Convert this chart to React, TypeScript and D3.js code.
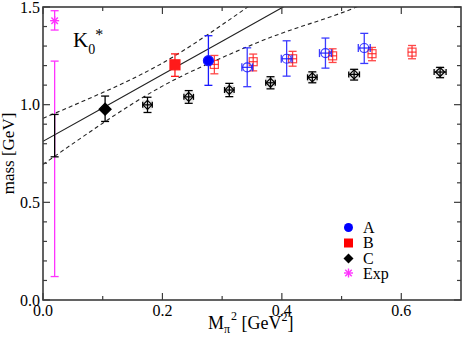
import React from "react";
import * as d3 from "d3";

// --- data ---
// A (blue): first point filled, rest open
const aX = [0.277, 0.342, 0.408, 0.473, 0.538];
const aM = [1.225, 1.191, 1.235, 1.264, 1.29];
const aLo = [1.099, 1.092, 1.146, 1.187, 1.211];
const aHi = [1.353, 1.291, 1.327, 1.341, 1.365];
const aXErr = [0, 0.009, 0.009, 0.01, 0.01];

// B (red)
const bX = [0.221, 0.287, 0.352, 0.418, 0.485, 0.551, 0.618];
const bM = [1.204, 1.206, 1.22, 1.235, 1.25, 1.261, 1.269];
const bLo = [1.145, 1.158, 1.173, 1.197, 1.216, 1.225, 1.235];
const bHi = [1.26, 1.252, 1.259, 1.273, 1.286, 1.293, 1.303];
const bXErr = [0, 0.007, 0.007, 0.007, 0.007, 0.007, 0.007];

// C (black)
const cX = [0.104, 0.175, 0.244, 0.312, 0.381, 0.451, 0.521, 0.665];
const cM = [0.977, 0.999, 1.04, 1.075, 1.112, 1.14, 1.155, 1.167];
const cLo = [0.914, 0.96, 1.007, 1.041, 1.081, 1.112, 1.126, 1.138];
const cHi = [1.044, 1.038, 1.072, 1.109, 1.143, 1.168, 1.181, 1.191];
const cXErr = [0, 0.008, 0.008, 0.008, 0.008, 0.008, 0.009, 0.01];

// experiment (magenta) + chiral extrapolation
const expX = 0.0195;
const expM = [1.43];
const expLo = [1.382, 0.12];
const expHi = [1.481, 1.223];
const extrapLo = 0.733;
const extrapHi = 0.95;

// linear fit and its error band
const fitX = [0, 0.1, 0.2, 0.3, 0.4, 0.5, 0.6];
const fitMid = [0.812, 0.983, 1.154, 1.325, 1.496, 1.668, 1.839];
const fitUp = [0.93, 1.062, 1.213, 1.409, 1.624, 1.845, 2.07];
const fitLo = [0.694, 0.905, 1.095, 1.241, 1.366, 1.47, 1.6];

const xMajor = [0, 0.2, 0.4, 0.6];
const xMinor = [0.1, 0.3, 0.5];
const yMajor = [0, 0.5, 1.0, 1.5];
const yMinor = [0.1, 0.2, 0.3, 0.4, 0.6, 0.7, 0.8, 0.9, 1.1, 1.2, 1.3, 1.4];

const legendLabels = ["A", "B", "C", "Exp"];

const W = 463;
const H = 346;
const L = 43, R = 461, T = 7, B = 300;
const font = "'Liberation Serif', 'Times New Roman', serif";
const axisCol = "#3c3c3c";

const x = d3.scaleLinear().domain([0, 0.7]).range([L, R]);
const y = d3.scaleLinear().domain([0, 1.5]).range([B, T]);

const BLUE = "#1a1aff";
const RED = "#ff1a1a";
const MAG = "#ff33ff";

function VBar({ px, lo, hi, color, cap = 4, opacity = 1 }: any) {
  return (
    <g stroke={color} strokeWidth={1.3} opacity={opacity}>
      <line x1={px} x2={px} y1={y(lo)} y2={y(hi)} />
      <line x1={px - cap} x2={px + cap} y1={y(lo)} y2={y(lo)} />
      <line x1={px - cap} x2={px + cap} y1={y(hi)} y2={y(hi)} />
    </g>
  );
}

function HBar({ xv, xe, py, color, cap = 3, opacity = 1 }: any) {
  if (!xe) return null;
  const x1 = x(xv - xe), x2 = x(xv + xe);
  return (
    <g stroke={color} strokeWidth={1.3} opacity={opacity}>
      <line x1={x1} x2={x2} y1={py} y2={py} />
      <line x1={x1} x2={x1} y1={py - cap} y2={py + cap} />
      <line x1={x2} x2={x2} y1={py - cap} y2={py + cap} />
    </g>
  );
}

function Star({ cx, cy, r, color }: any) {
  const d = r * 0.72;
  return (
    <g stroke={color} strokeWidth={1.4}>
      <line x1={cx - r} x2={cx + r} y1={cy} y2={cy} />
      <line x1={cx} x2={cx} y1={cy - r} y2={cy + r} />
      <line x1={cx - d} x2={cx + d} y1={cy - d} y2={cy + d} />
      <line x1={cx - d} x2={cx + d} y1={cy + d} y2={cy - d} />
    </g>
  );
}

const diamond = (cx: number, cy: number, r: number) =>
  `M${cx},${cy - r}L${cx + r},${cy}L${cx},${cy + r}L${cx - r},${cy}Z`;

export default function App() {
  const line = d3
    .line<number>()
    .x((_, i) => x(fitX[i]))
    .y((d) => y(d));
  const curve = d3
    .line<number>()
    .x((_, i) => x(fitX[i]))
    .y((d) => y(d))
    .curve(d3.curveNatural);

  return (
    <svg
      width={W}
      height={H}
      style={{ position: "absolute", left: 0, top: 0, background: "#fff" }}
      fontFamily={font}
    >
      <defs>
        <clipPath id="plot">
          <rect x={L} y={T} width={R - L} height={B - T} />
        </clipPath>
      </defs>

      {/* fit band */}
      <g clipPath="url(#plot)" fill="none" stroke="#222" strokeWidth={1.1}>
        <path d={line(fitMid) || ""} />
        <path d={curve(fitUp) || ""} strokeDasharray="4,3" />
        <path d={curve(fitLo) || ""} strokeDasharray="4,3" />
      </g>

      {/* experiment */}
      {expLo.map((lo, i) => (
        <VBar key={"e" + i} px={x(expX)} lo={lo} hi={expHi[i]} color={MAG} cap={4} />
      ))}
      {expM.map((m, i) => (
        <Star key={"es" + i} cx={x(expX)} cy={y(m)} r={4.5} color={MAG} />
      ))}
      <VBar px={x(expX)} lo={extrapLo} hi={extrapHi} color="#000" cap={4} />

      {/* C black */}
      {cX.map((xv, i) => {
        const px = x(xv), py = y(cM[i]);
        const filled = i === 0;
        return (
          <g key={"c" + i}>
            {!filled && (
              <rect x={px - 5} y={py - 5} width={10} height={10} fill="#d8d8d8" opacity={0.6} />
            )}
            <VBar px={px} lo={cLo[i]} hi={cHi[i]} color="#000" cap={4} />
            <HBar xv={xv} xe={cXErr[i]} py={py} color="#000" cap={3} />
            <path
              d={diamond(px, py, filled ? 6 : 4.5)}
              fill={filled ? "#000" : "none"}
              stroke="#000"
              strokeWidth={1.2}
            />
          </g>
        );
      })}

      {/* B red */}
      {bX.map((xv, i) => {
        const px = x(xv), py = y(bM[i]);
        const filled = i === 0;
        const op = filled ? 1 : 0.8;
        const s = filled ? 10 : 8;
        return (
          <g key={"b" + i}>
            <VBar px={px} lo={bLo[i]} hi={bHi[i]} color={RED} cap={4} opacity={op} />
            <HBar xv={xv} xe={bXErr[i]} py={py} color={RED} cap={0} opacity={op} />
            <rect
              x={px - s / 2}
              y={py - s / 2}
              width={s}
              height={s}
              fill={filled ? RED : "none"}
              stroke={RED}
              strokeWidth={1.2}
              opacity={op}
            />
          </g>
        );
      })}

      {/* A blue */}
      {aX.map((xv, i) => {
        const px = x(xv), py = y(aM[i]);
        const filled = i === 0;
        const op = filled ? 1 : 0.85;
        return (
          <g key={"a" + i}>
            <VBar px={px} lo={aLo[i]} hi={aHi[i]} color={BLUE} cap={4} opacity={op} />
            <HBar xv={xv} xe={aXErr[i]} py={py} color={BLUE} cap={4} opacity={op} />
            <circle
              cx={px}
              cy={py}
              r={filled ? 5 : 4.5}
              fill={filled ? "#0000ff" : "none"}
              stroke={BLUE}
              strokeWidth={1.2}
              opacity={op}
            />
          </g>
        );
      })}

      {/* frame and ticks */}
      <rect x={L} y={T} width={R - L} height={B - T} fill="none" stroke={axisCol} strokeWidth={1.6} />
      <g stroke={axisCol} strokeWidth={1.2}>
        {xMajor.map((v) => (
          <g key={"xM" + v}>
            <line x1={x(v)} x2={x(v)} y1={B} y2={B - 7} />
            <line x1={x(v)} x2={x(v)} y1={T} y2={T + 7} />
          </g>
        ))}
        {xMinor.map((v) => (
          <g key={"xm" + v}>
            <line x1={x(v)} x2={x(v)} y1={B} y2={B - 4} />
            <line x1={x(v)} x2={x(v)} y1={T} y2={T + 4} />
          </g>
        ))}
        {yMajor.map((v) => (
          <g key={"yM" + v}>
            <line x1={L} x2={L + 7} y1={y(v)} y2={y(v)} />
            <line x1={R} x2={R - 7} y1={y(v)} y2={y(v)} />
          </g>
        ))}
        {yMinor.map((v) => (
          <g key={"ym" + v}>
            <line x1={L} x2={L + 4} y1={y(v)} y2={y(v)} />
            <line x1={R} x2={R - 4} y1={y(v)} y2={y(v)} />
          </g>
        ))}
      </g>

      {/* tick labels */}
      <g fontSize={16} fill="#000">
        {xMajor.map((v) => (
          <text key={"xl" + v} x={x(v)} y={316} textAnchor="middle">
            {v.toFixed(1)}
          </text>
        ))}
        {yMajor.map((v) => (
          <text key={"yl" + v} x={40} y={y(v) + 5.5} textAnchor="end">
            {v.toFixed(1)}
          </text>
        ))}
      </g>

      {/* axis titles */}
      <text x={208} y={329} fontSize={18}>
        M<tspan fontSize={12} dy={4}>π</tspan>
        <tspan fontSize={12} dy={-13} dx={1}>2</tspan>
        <tspan dy={9}> [GeV</tspan>
        <tspan fontSize={12} dy={-8}>2</tspan>
        <tspan dy={8}>]</tspan>
      </text>
      <text transform={`translate(14,${(T + B) / 2}) rotate(-90)`} textAnchor="middle" fontSize={17}>
        mass [GeV]
      </text>

      {/* particle label */}
      <text x={73} y={47} fontSize={21}>
        K<tspan fontSize={14} dy={7}>0</tspan>
        <tspan fontSize={16} dy={-14}>*</tspan>
      </text>

      {/* legend */}
      <g fontSize={16}>
        {legendLabels.map((lab, i) => {
          const by = 232.5 + i * 15.5;
          const cy = by - 5;
          const cx = 348.5;
          return (
            <g key={lab}>
              {i === 0 && <circle cx={cx} cy={cy} r={4.5} fill="#0000ff" />}
              {i === 1 && <rect x={cx - 4.5} y={cy - 4.5} width={9} height={9} fill="#ff0000" />}
              {i === 2 && <path d={diamond(cx, cy, 5)} fill="#000" />}
              {i === 3 && <Star cx={cx} cy={cy - 1} r={4.5} color={MAG} />}
              <text x={363} y={by}>
                {lab}
              </text>
            </g>
          );
        })}
      </g>
    </svg>
  );
}
